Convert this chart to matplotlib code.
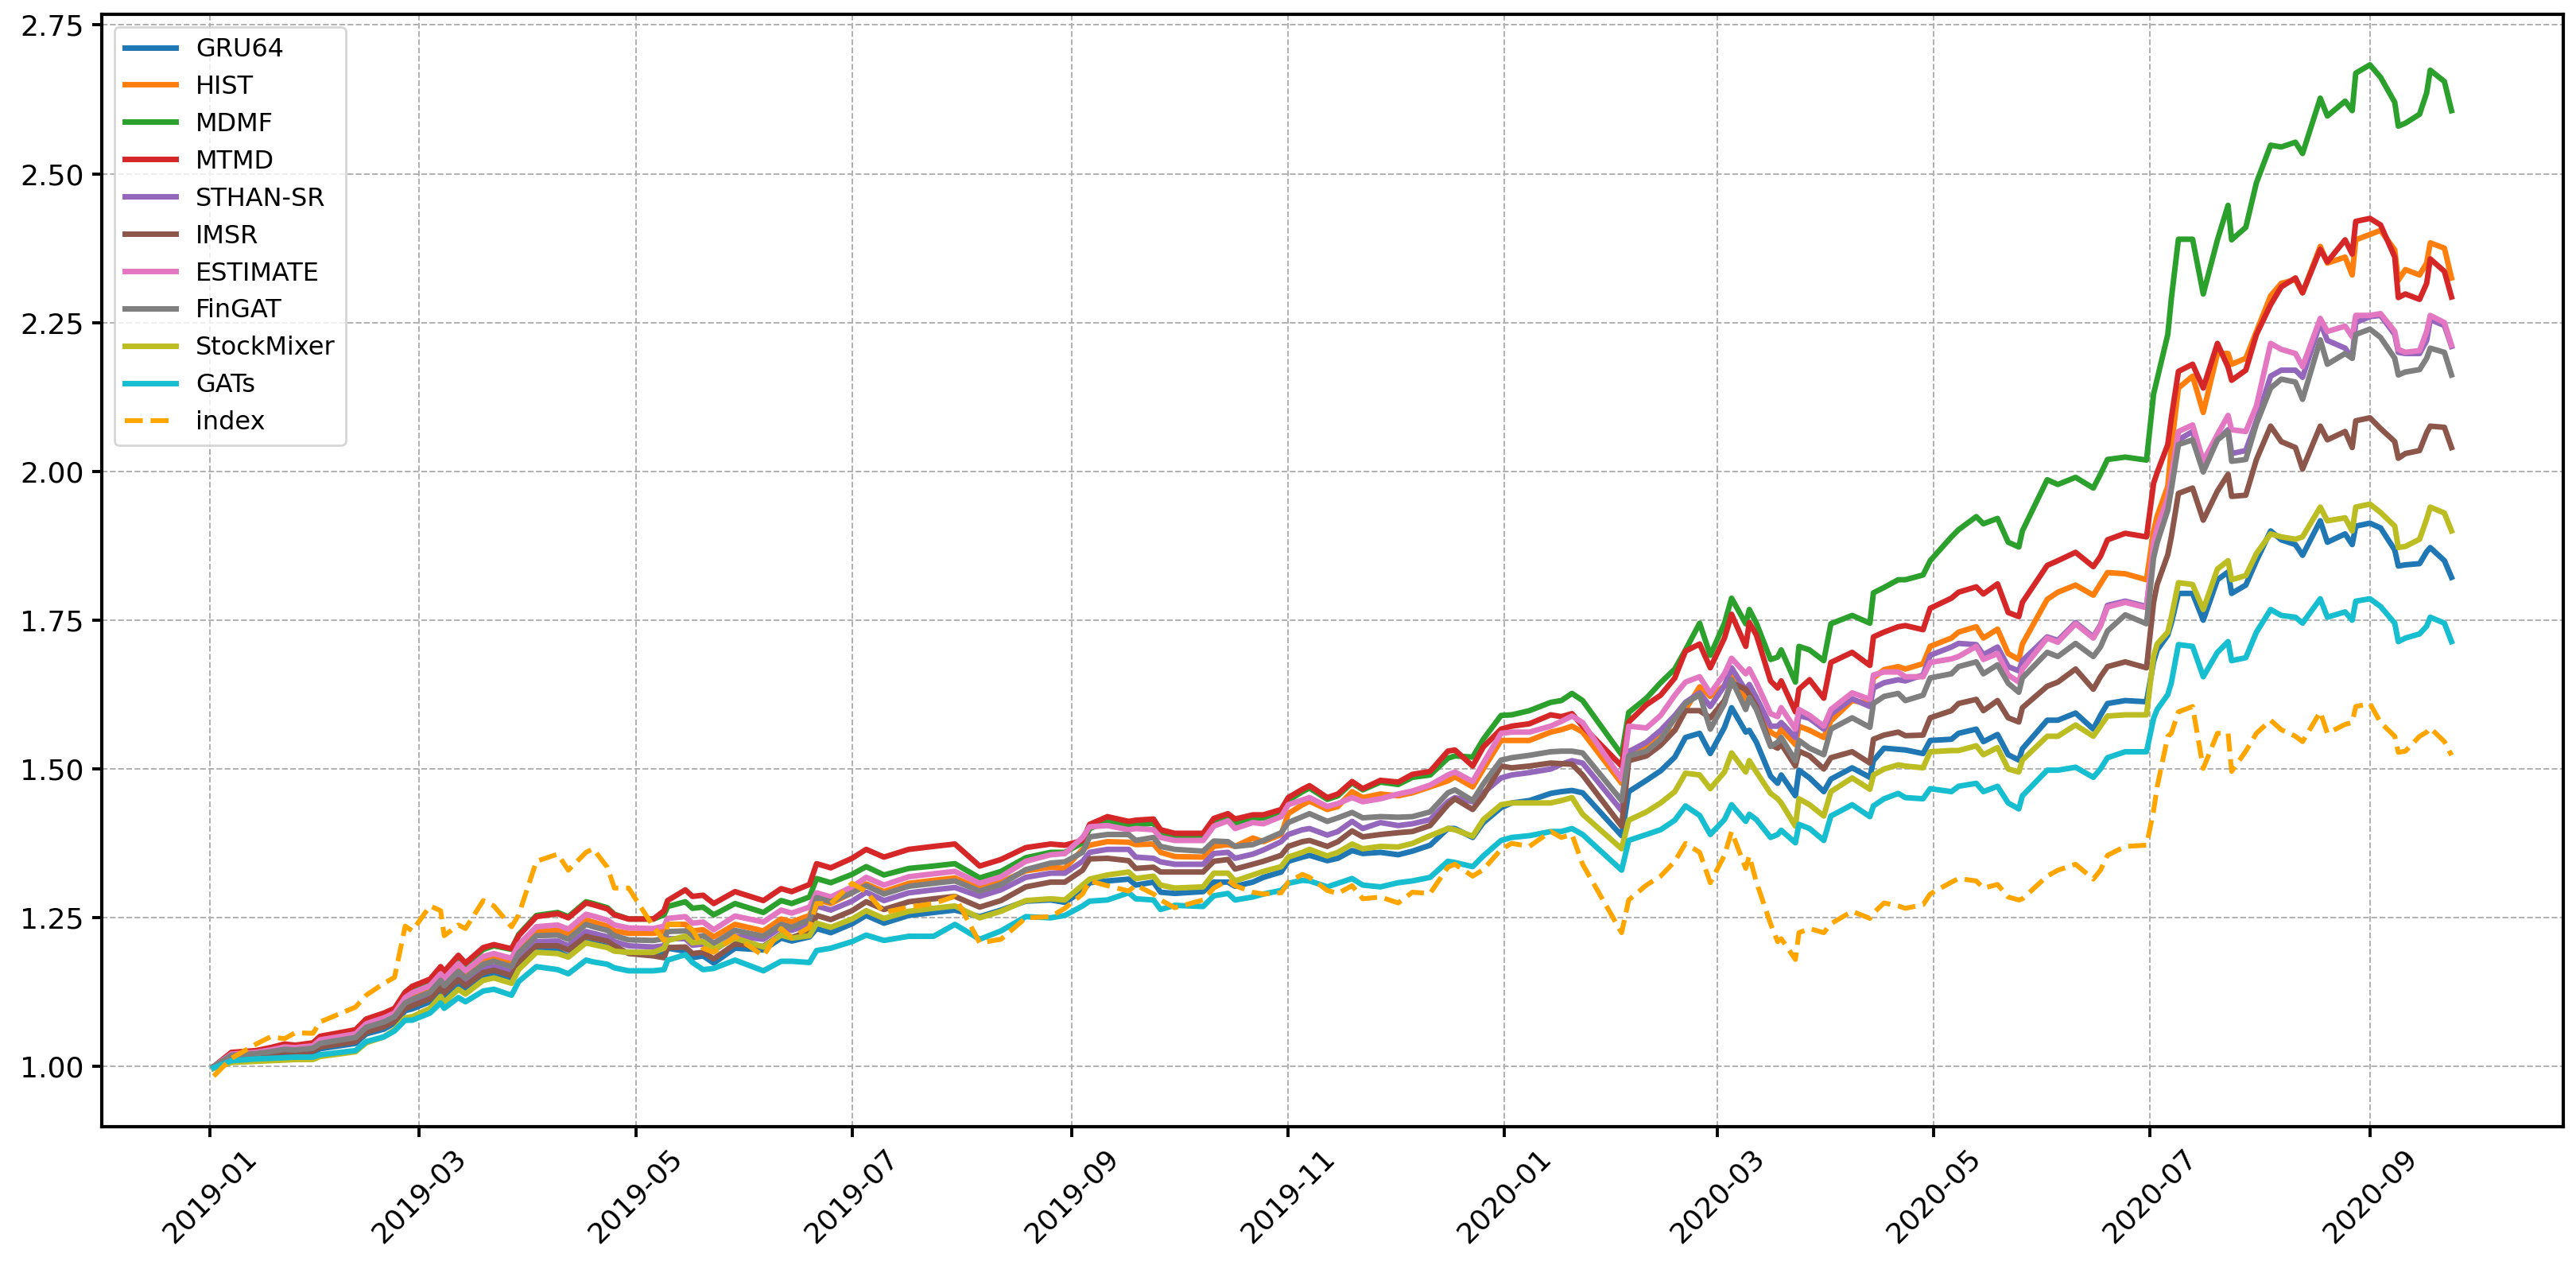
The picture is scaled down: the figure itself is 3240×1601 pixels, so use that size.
import matplotlib
matplotlib.use("Agg")
import matplotlib.pyplot as plt
import matplotlib.dates as mdates
import pandas as pd

# trading days sampled off the chart
dates = pd.to_datetime([
    # 2019-01 .. 2019-05-06
    "2019-01-02", "2019-01-07", "2019-01-14", "2019-01-18", "2019-01-22", "2019-01-25",
    "2019-01-30", "2019-02-01", "2019-02-11", "2019-02-14", "2019-02-19", "2019-02-22",
    "2019-02-25", "2019-02-27", "2019-03-04", "2019-03-07", "2019-03-08", "2019-03-12",
    "2019-03-14", "2019-03-19", "2019-03-22", "2019-03-27", "2019-03-29", "2019-04-03",
    "2019-04-09", "2019-04-12", "2019-04-17", "2019-04-19", "2019-04-23", "2019-04-25",
    "2019-04-29", "2019-05-06",
    # 2019-05 .. 2019-08
    "2019-05-09", "2019-05-10", "2019-05-15", "2019-05-17", "2019-05-20", "2019-05-23",
    "2019-05-29", "2019-06-06", "2019-06-11", "2019-06-14", "2019-06-19", "2019-06-21",
    "2019-06-25", "2019-07-01", "2019-07-05", "2019-07-10", "2019-07-17", "2019-07-24",
    "2019-07-30", "2019-08-06", "2019-08-12", "2019-08-19", "2019-08-26", "2019-08-30",
    # 2019-09 .. 2019-12
    "2019-09-04", "2019-09-06", "2019-09-11", "2019-09-17", "2019-09-19", "2019-09-24",
    "2019-09-26", "2019-09-30", "2019-10-08", "2019-10-11", "2019-10-15", "2019-10-17",
    "2019-10-22", "2019-10-25", "2019-10-30", "2019-11-01", "2019-11-05", "2019-11-07",
    "2019-11-12", "2019-11-15", "2019-11-19", "2019-11-22", "2019-11-27", "2019-12-02",
    "2019-12-06", "2019-12-11", "2019-12-16", "2019-12-18", "2019-12-23", "2019-12-26",
    "2019-12-31",
    # 2020-01 .. 2020-04
    "2020-01-03", "2020-01-08", "2020-01-14", "2020-01-17", "2020-01-20", "2020-01-23",
    "2020-02-03", "2020-02-05", "2020-02-10", "2020-02-14", "2020-02-18", "2020-02-21",
    "2020-02-25", "2020-02-28", "2020-03-03", "2020-03-05", "2020-03-09", "2020-03-10",
    "2020-03-12", "2020-03-16", "2020-03-18", "2020-03-19", "2020-03-23", "2020-03-24",
    "2020-03-27", "2020-03-31", "2020-04-02", "2020-04-08", "2020-04-13", "2020-04-14",
    "2020-04-17", "2020-04-21", "2020-04-23", "2020-04-28", "2020-04-30",
    # 2020-05 .. 2020-06
    "2020-05-06", "2020-05-08", "2020-05-13", "2020-05-15", "2020-05-19", "2020-05-22",
    "2020-05-25", "2020-05-26", "2020-06-02", "2020-06-05", "2020-06-10", "2020-06-15",
    "2020-06-17", "2020-06-19", "2020-06-24", "2020-06-30",
    # 2020-07 .. 2020-09
    "2020-07-02", "2020-07-03", "2020-07-06", "2020-07-07", "2020-07-09", "2020-07-13",
    "2020-07-16", "2020-07-20", "2020-07-23", "2020-07-24", "2020-07-28", "2020-07-31",
    "2020-08-04", "2020-08-07", "2020-08-11", "2020-08-13", "2020-08-18", "2020-08-20",
    "2020-08-25", "2020-08-27", "2020-08-28", "2020-09-01", "2020-09-04", "2020-09-08",
    "2020-09-09", "2020-09-11", "2020-09-15", "2020-09-17", "2020-09-18", "2020-09-22",
    "2020-09-24",
])

gru64 = [
    0.998, 1.015, 1.018, 1.020, 1.023, 1.023, 1.024, 1.030, 1.039, 1.055, 1.063, 1.073, 1.094, 1.097, 1.109, 1.127, 1.118, 1.139, 1.130, 1.151, 1.155, 1.146, 1.168, 1.196, 1.194, 1.185, 1.210, 1.207, 1.202, 1.195, 1.192, 1.190,
    1.189, 1.199, 1.194, 1.183, 1.186, 1.174, 1.199, 1.196, 1.216, 1.211, 1.218, 1.232, 1.225, 1.240, 1.254, 1.241, 1.254, 1.259, 1.263, 1.252, 1.263, 1.278, 1.280, 1.276,
    1.295, 1.309, 1.312, 1.315, 1.305, 1.310, 1.293, 1.291, 1.294, 1.310, 1.310, 1.303, 1.310, 1.318, 1.327, 1.345, 1.352, 1.355, 1.346, 1.350, 1.363, 1.358, 1.360, 1.356, 1.362, 1.372, 1.400, 1.400, 1.385, 1.410, 1.435,
    1.443, 1.447, 1.459, 1.462, 1.464, 1.460, 1.388, 1.462, 1.481, 1.497, 1.520, 1.553, 1.560, 1.526, 1.570, 1.603, 1.562, 1.565, 1.545, 1.488, 1.476, 1.490, 1.455, 1.498, 1.485, 1.462, 1.483, 1.502, 1.486, 1.514, 1.535, 1.533, 1.532, 1.526, 1.548,
    1.550, 1.560, 1.567, 1.546, 1.558, 1.524, 1.515, 1.534, 1.582, 1.582, 1.594, 1.567, 1.590, 1.610, 1.615, 1.613,
    1.680, 1.700, 1.725, 1.745, 1.795, 1.795, 1.750, 1.818, 1.831, 1.795, 1.809, 1.850, 1.900, 1.885, 1.877, 1.859, 1.917, 1.881, 1.895, 1.877, 1.908, 1.913, 1.905, 1.868, 1.841, 1.843, 1.845, 1.865, 1.872, 1.850, 1.822,
]
hist = [
    1.000, 1.020, 1.023, 1.027, 1.031, 1.030, 1.033, 1.042, 1.052, 1.069, 1.078, 1.087, 1.112, 1.118, 1.130, 1.150, 1.141, 1.166, 1.155, 1.178, 1.183, 1.175, 1.197, 1.227, 1.229, 1.222, 1.246, 1.243, 1.236, 1.228, 1.224, 1.224,
    1.227, 1.239, 1.239, 1.228, 1.230, 1.218, 1.239, 1.228, 1.248, 1.243, 1.254, 1.281, 1.274, 1.292, 1.307, 1.294, 1.308, 1.313, 1.317, 1.299, 1.310, 1.329, 1.335, 1.333,
    1.365, 1.372, 1.378, 1.377, 1.373, 1.374, 1.360, 1.353, 1.352, 1.370, 1.373, 1.370, 1.384, 1.378, 1.390, 1.425, 1.440, 1.446, 1.432, 1.437, 1.462, 1.452, 1.458, 1.455, 1.460, 1.470, 1.480, 1.487, 1.470, 1.500, 1.548,
    1.548, 1.548, 1.562, 1.566, 1.572, 1.562, 1.476, 1.530, 1.538, 1.555, 1.565, 1.600, 1.638, 1.622, 1.640, 1.665, 1.615, 1.625, 1.610, 1.562, 1.555, 1.567, 1.541, 1.572, 1.565, 1.553, 1.581, 1.615, 1.610, 1.653, 1.667, 1.672, 1.668, 1.677, 1.706,
    1.720, 1.730, 1.739, 1.720, 1.735, 1.694, 1.684, 1.710, 1.785, 1.797, 1.809, 1.792, 1.811, 1.830, 1.828, 1.818,
    1.900, 1.925, 1.975, 2.040, 2.140, 2.160, 2.099, 2.198, 2.198, 2.180, 2.190, 2.235, 2.295, 2.316, 2.322, 2.300, 2.378, 2.350, 2.360, 2.330, 2.389, 2.398, 2.405, 2.372, 2.321, 2.339, 2.330, 2.350, 2.384, 2.375, 2.325,
]
mdmf = [
    1.000, 1.023, 1.026, 1.031, 1.036, 1.035, 1.039, 1.048, 1.056, 1.077, 1.088, 1.096, 1.125, 1.133, 1.145, 1.165, 1.157, 1.184, 1.171, 1.197, 1.203, 1.197, 1.222, 1.254, 1.259, 1.252, 1.277, 1.274, 1.267, 1.256, 1.248, 1.248,
    1.255, 1.269, 1.277, 1.266, 1.268, 1.255, 1.274, 1.259, 1.279, 1.274, 1.285, 1.316, 1.309, 1.323, 1.336, 1.322, 1.333, 1.337, 1.341, 1.317, 1.328, 1.351, 1.360, 1.360,
    1.376, 1.400, 1.412, 1.405, 1.406, 1.409, 1.392, 1.387, 1.387, 1.410, 1.418, 1.409, 1.417, 1.418, 1.427, 1.447, 1.462, 1.468, 1.449, 1.455, 1.477, 1.465, 1.478, 1.474, 1.486, 1.490, 1.518, 1.522, 1.520, 1.550, 1.590,
    1.591, 1.598, 1.612, 1.615, 1.627, 1.615, 1.524, 1.595, 1.619, 1.645, 1.668, 1.700, 1.745, 1.691, 1.745, 1.787, 1.744, 1.768, 1.745, 1.684, 1.688, 1.700, 1.646, 1.706, 1.700, 1.682, 1.744, 1.758, 1.745, 1.796, 1.805, 1.818, 1.818, 1.826, 1.850,
    1.890, 1.902, 1.924, 1.912, 1.921, 1.881, 1.873, 1.900, 1.986, 1.978, 1.990, 1.972, 1.995, 2.020, 2.024, 2.019,
    2.130, 2.155, 2.230, 2.290, 2.390, 2.390, 2.298, 2.389, 2.447, 2.389, 2.410, 2.485, 2.548, 2.545, 2.553, 2.534, 2.627, 2.597, 2.622, 2.606, 2.669, 2.683, 2.662, 2.620, 2.580, 2.585, 2.600, 2.636, 2.674, 2.655, 2.606,
]
mtmd = [
    1.000, 1.024, 1.027, 1.032, 1.038, 1.036, 1.040, 1.051, 1.062, 1.080, 1.090, 1.098, 1.125, 1.135, 1.147, 1.168, 1.160, 1.187, 1.174, 1.200, 1.205, 1.198, 1.220, 1.252, 1.257, 1.250, 1.275, 1.272, 1.265, 1.255, 1.248, 1.248,
    1.262, 1.279, 1.297, 1.286, 1.288, 1.274, 1.294, 1.279, 1.299, 1.294, 1.306, 1.341, 1.334, 1.350, 1.365, 1.352, 1.365, 1.370, 1.374, 1.337, 1.348, 1.368, 1.374, 1.372,
    1.380, 1.407, 1.420, 1.412, 1.414, 1.416, 1.398, 1.392, 1.392, 1.417, 1.425, 1.416, 1.423, 1.423, 1.432, 1.452, 1.466, 1.472, 1.452, 1.458, 1.479, 1.467, 1.481, 1.478, 1.491, 1.496, 1.530, 1.532, 1.505, 1.537, 1.567,
    1.572, 1.576, 1.591, 1.588, 1.593, 1.572, 1.505, 1.579, 1.608, 1.624, 1.653, 1.698, 1.710, 1.670, 1.720, 1.760, 1.706, 1.746, 1.725, 1.648, 1.636, 1.648, 1.596, 1.634, 1.650, 1.619, 1.679, 1.696, 1.674, 1.722, 1.730, 1.739, 1.741, 1.734, 1.770,
    1.787, 1.797, 1.806, 1.794, 1.811, 1.763, 1.756, 1.780, 1.842, 1.850, 1.864, 1.840, 1.857, 1.885, 1.896, 1.890,
    1.980, 1.998, 2.045, 2.090, 2.168, 2.180, 2.140, 2.215, 2.175, 2.153, 2.170, 2.230, 2.280, 2.310, 2.325, 2.300, 2.373, 2.352, 2.389, 2.365, 2.420, 2.425, 2.414, 2.360, 2.292, 2.298, 2.289, 2.316, 2.357, 2.336, 2.293,
]
sthan_sr = [
    1.000, 1.017, 1.020, 1.023, 1.027, 1.026, 1.028, 1.036, 1.045, 1.061, 1.070, 1.079, 1.101, 1.106, 1.118, 1.137, 1.129, 1.152, 1.142, 1.164, 1.168, 1.159, 1.182, 1.210, 1.211, 1.203, 1.227, 1.224, 1.218, 1.210, 1.203, 1.201,
    1.203, 1.215, 1.215, 1.204, 1.206, 1.195, 1.219, 1.214, 1.234, 1.229, 1.239, 1.270, 1.263, 1.278, 1.293, 1.279, 1.292, 1.297, 1.301, 1.286, 1.297, 1.318, 1.325, 1.325,
    1.345, 1.360, 1.365, 1.365, 1.352, 1.350, 1.344, 1.340, 1.340, 1.358, 1.360, 1.350, 1.357, 1.364, 1.378, 1.390, 1.398, 1.400, 1.389, 1.395, 1.412, 1.400, 1.410, 1.405, 1.408, 1.415, 1.445, 1.452, 1.445, 1.460, 1.485,
    1.490, 1.494, 1.500, 1.508, 1.514, 1.510, 1.430, 1.529, 1.545, 1.565, 1.590, 1.612, 1.628, 1.605, 1.640, 1.670, 1.632, 1.642, 1.620, 1.572, 1.572, 1.578, 1.553, 1.590, 1.585, 1.567, 1.592, 1.618, 1.605, 1.636, 1.645, 1.650, 1.648, 1.658, 1.691,
    1.705, 1.711, 1.709, 1.692, 1.705, 1.672, 1.665, 1.682, 1.722, 1.716, 1.746, 1.722, 1.742, 1.775, 1.782, 1.773,
    1.870, 1.895, 1.945, 1.980, 2.053, 2.067, 2.005, 2.053, 2.070, 2.030, 2.035, 2.085, 2.160, 2.170, 2.170, 2.158, 2.250, 2.220, 2.207, 2.190, 2.250, 2.260, 2.262, 2.230, 2.200, 2.198, 2.198, 2.220, 2.255, 2.245, 2.210,
]
imsr = [
    1.000, 1.016, 1.019, 1.022, 1.025, 1.024, 1.026, 1.033, 1.042, 1.058, 1.067, 1.076, 1.098, 1.102, 1.114, 1.133, 1.124, 1.146, 1.136, 1.158, 1.162, 1.153, 1.175, 1.203, 1.203, 1.196, 1.219, 1.216, 1.211, 1.203, 1.190, 1.186,
    1.183, 1.200, 1.201, 1.190, 1.192, 1.181, 1.206, 1.202, 1.222, 1.217, 1.227, 1.254, 1.247, 1.262, 1.277, 1.264, 1.277, 1.282, 1.286, 1.268, 1.279, 1.302, 1.310, 1.310,
    1.330, 1.349, 1.350, 1.346, 1.333, 1.335, 1.327, 1.327, 1.327, 1.345, 1.348, 1.332, 1.340, 1.345, 1.355, 1.370, 1.378, 1.380, 1.370, 1.378, 1.396, 1.386, 1.390, 1.393, 1.395, 1.405, 1.440, 1.450, 1.432, 1.455, 1.505,
    1.502, 1.505, 1.510, 1.509, 1.508, 1.490, 1.404, 1.514, 1.522, 1.540, 1.565, 1.598, 1.598, 1.586, 1.615, 1.645, 1.634, 1.625, 1.605, 1.541, 1.535, 1.542, 1.505, 1.530, 1.522, 1.500, 1.519, 1.529, 1.510, 1.550, 1.557, 1.562, 1.556, 1.557, 1.586,
    1.598, 1.610, 1.617, 1.598, 1.615, 1.586, 1.579, 1.603, 1.639, 1.646, 1.668, 1.634, 1.655, 1.672, 1.680, 1.670,
    1.780, 1.810, 1.860, 1.890, 1.963, 1.972, 1.918, 1.967, 1.995, 1.958, 1.960, 2.020, 2.076, 2.050, 2.040, 2.004, 2.076, 2.053, 2.067, 2.040, 2.085, 2.090, 2.072, 2.050, 2.022, 2.030, 2.035, 2.065, 2.076, 2.074, 2.040,
]
estimate = [
    1.000, 1.021, 1.024, 1.028, 1.033, 1.032, 1.035, 1.045, 1.055, 1.072, 1.082, 1.090, 1.116, 1.124, 1.136, 1.156, 1.148, 1.173, 1.161, 1.185, 1.190, 1.182, 1.205, 1.235, 1.238, 1.231, 1.256, 1.253, 1.246, 1.238, 1.233, 1.232,
    1.236, 1.249, 1.252, 1.241, 1.243, 1.230, 1.253, 1.243, 1.263, 1.258, 1.268, 1.292, 1.285, 1.302, 1.318, 1.305, 1.319, 1.324, 1.328, 1.308, 1.319, 1.345, 1.356, 1.358,
    1.385, 1.403, 1.405, 1.398, 1.400, 1.398, 1.385, 1.380, 1.380, 1.404, 1.413, 1.400, 1.410, 1.408, 1.420, 1.440, 1.448, 1.452, 1.437, 1.442, 1.452, 1.445, 1.450, 1.458, 1.463, 1.473, 1.490, 1.495, 1.479, 1.510, 1.560,
    1.562, 1.562, 1.572, 1.580, 1.589, 1.578, 1.483, 1.572, 1.569, 1.590, 1.624, 1.646, 1.655, 1.627, 1.660, 1.686, 1.660, 1.668, 1.645, 1.593, 1.588, 1.603, 1.567, 1.600, 1.590, 1.572, 1.600, 1.628, 1.617, 1.658, 1.663, 1.663, 1.655, 1.655, 1.679,
    1.685, 1.689, 1.706, 1.684, 1.694, 1.658, 1.646, 1.668, 1.720, 1.713, 1.744, 1.720, 1.740, 1.772, 1.780, 1.771,
    1.880, 1.905, 1.955, 1.990, 2.067, 2.078, 2.017, 2.062, 2.094, 2.070, 2.067, 2.110, 2.215, 2.205, 2.198, 2.176, 2.257, 2.235, 2.244, 2.226, 2.262, 2.262, 2.265, 2.235, 2.205, 2.200, 2.203, 2.235, 2.262, 2.250, 2.212,
]
fingat = [
    1.000, 1.019, 1.022, 1.025, 1.029, 1.028, 1.031, 1.039, 1.049, 1.066, 1.075, 1.084, 1.107, 1.113, 1.125, 1.145, 1.136, 1.160, 1.149, 1.172, 1.177, 1.168, 1.191, 1.220, 1.221, 1.214, 1.239, 1.235, 1.229, 1.220, 1.213, 1.212,
    1.215, 1.227, 1.228, 1.217, 1.220, 1.207, 1.229, 1.219, 1.239, 1.234, 1.247, 1.284, 1.277, 1.292, 1.304, 1.290, 1.303, 1.308, 1.312, 1.295, 1.306, 1.331, 1.342, 1.344,
    1.360, 1.386, 1.390, 1.390, 1.380, 1.385, 1.370, 1.365, 1.362, 1.379, 1.378, 1.370, 1.373, 1.380, 1.393, 1.410, 1.420, 1.425, 1.412, 1.418, 1.427, 1.418, 1.420, 1.419, 1.420, 1.428, 1.460, 1.465, 1.447, 1.475, 1.515,
    1.519, 1.523, 1.529, 1.530, 1.530, 1.527, 1.447, 1.522, 1.530, 1.550, 1.585, 1.610, 1.625, 1.567, 1.610, 1.650, 1.600, 1.620, 1.600, 1.538, 1.545, 1.553, 1.514, 1.548, 1.535, 1.524, 1.567, 1.586, 1.570, 1.610, 1.622, 1.627, 1.615, 1.624, 1.653,
    1.660, 1.672, 1.680, 1.660, 1.675, 1.644, 1.629, 1.653, 1.696, 1.689, 1.711, 1.689, 1.705, 1.732, 1.759, 1.744,
    1.855, 1.880, 1.935, 1.970, 2.045, 2.053, 1.999, 2.053, 2.067, 2.017, 2.020, 2.080, 2.140, 2.155, 2.150, 2.121, 2.221, 2.180, 2.198, 2.190, 2.230, 2.239, 2.225, 2.190, 2.162, 2.167, 2.171, 2.190, 2.207, 2.200, 2.162,
]
stockmixer = [
    0.997, 1.007, 1.009, 1.010, 1.011, 1.012, 1.012, 1.017, 1.025, 1.040, 1.050, 1.062, 1.082, 1.084, 1.098, 1.118, 1.108, 1.130, 1.122, 1.145, 1.149, 1.140, 1.163, 1.192, 1.190, 1.184, 1.208, 1.205, 1.200, 1.194, 1.192, 1.192,
    1.199, 1.212, 1.219, 1.208, 1.210, 1.197, 1.216, 1.201, 1.221, 1.216, 1.220, 1.241, 1.234, 1.248, 1.262, 1.249, 1.261, 1.266, 1.270, 1.250, 1.261, 1.279, 1.282, 1.280,
    1.305, 1.315, 1.322, 1.327, 1.316, 1.320, 1.305, 1.300, 1.302, 1.325, 1.325, 1.312, 1.322, 1.328, 1.336, 1.352, 1.360, 1.365, 1.354, 1.360, 1.374, 1.366, 1.370, 1.369, 1.375, 1.388, 1.400, 1.398, 1.387, 1.415, 1.440,
    1.443, 1.443, 1.443, 1.447, 1.452, 1.424, 1.366, 1.414, 1.428, 1.443, 1.462, 1.493, 1.490, 1.467, 1.495, 1.527, 1.495, 1.514, 1.495, 1.459, 1.450, 1.443, 1.404, 1.450, 1.440, 1.421, 1.462, 1.485, 1.466, 1.490, 1.500, 1.507, 1.505, 1.502, 1.529,
    1.531, 1.531, 1.539, 1.524, 1.536, 1.500, 1.495, 1.515, 1.555, 1.555, 1.574, 1.555, 1.572, 1.589, 1.591, 1.591,
    1.690, 1.710, 1.730, 1.755, 1.813, 1.810, 1.768, 1.836, 1.850, 1.818, 1.825, 1.862, 1.895, 1.890, 1.886, 1.890, 1.940, 1.917, 1.922, 1.900, 1.940, 1.945, 1.931, 1.908, 1.872, 1.874, 1.886, 1.920, 1.940, 1.930, 1.900,
]
gats = [
    0.998, 1.010, 1.013, 1.014, 1.015, 1.016, 1.016, 1.020, 1.027, 1.042, 1.050, 1.060, 1.078, 1.078, 1.090, 1.107, 1.098, 1.116, 1.109, 1.127, 1.130, 1.120, 1.143, 1.168, 1.163, 1.156, 1.179, 1.176, 1.172, 1.166, 1.161, 1.161,
    1.163, 1.179, 1.188, 1.175, 1.163, 1.165, 1.179, 1.161, 1.177, 1.177, 1.175, 1.195, 1.199, 1.210, 1.221, 1.212, 1.219, 1.219, 1.239, 1.214, 1.228, 1.252, 1.250, 1.254,
    1.270, 1.278, 1.280, 1.292, 1.282, 1.280, 1.264, 1.271, 1.269, 1.287, 1.291, 1.280, 1.285, 1.290, 1.296, 1.308, 1.313, 1.312, 1.302, 1.308, 1.316, 1.305, 1.302, 1.309, 1.312, 1.318, 1.345, 1.343, 1.336, 1.354, 1.380,
    1.385, 1.388, 1.395, 1.395, 1.400, 1.390, 1.330, 1.380, 1.390, 1.398, 1.414, 1.438, 1.422, 1.390, 1.415, 1.440, 1.412, 1.424, 1.415, 1.385, 1.390, 1.397, 1.376, 1.407, 1.400, 1.380, 1.421, 1.440, 1.420, 1.438, 1.450, 1.459, 1.452, 1.450, 1.467,
    1.462, 1.471, 1.476, 1.462, 1.471, 1.443, 1.433, 1.455, 1.498, 1.498, 1.503, 1.486, 1.500, 1.519, 1.529, 1.529,
    1.585, 1.600, 1.625, 1.645, 1.709, 1.706, 1.655, 1.696, 1.714, 1.682, 1.687, 1.730, 1.768, 1.758, 1.755, 1.745, 1.786, 1.755, 1.764, 1.750, 1.782, 1.786, 1.773, 1.745, 1.714, 1.720, 1.727, 1.740, 1.755, 1.745, 1.714,
]
index = [
    0.984, 1.014, 1.038, 1.050, 1.047, 1.057, 1.056, 1.075, 1.100, 1.120, 1.140, 1.150, 1.236, 1.228, 1.270, 1.262, 1.220, 1.238, 1.232, 1.279, 1.270, 1.235, 1.255, 1.345, 1.357, 1.330, 1.360, 1.366, 1.335, 1.300, 1.300, 1.235,
    1.212, 1.239, 1.239, 1.230, 1.199, 1.192, 1.219, 1.186, 1.232, 1.217, 1.234, 1.274, 1.274, 1.308, 1.294, 1.259, 1.268, 1.274, 1.286, 1.208, 1.214, 1.250, 1.252, 1.266,
    1.290, 1.312, 1.304, 1.295, 1.305, 1.290, 1.280, 1.267, 1.280, 1.300, 1.313, 1.304, 1.293, 1.290, 1.292, 1.310, 1.323, 1.318, 1.296, 1.291, 1.304, 1.282, 1.285, 1.275, 1.293, 1.291, 1.335, 1.340, 1.320, 1.331, 1.365,
    1.375, 1.370, 1.395, 1.385, 1.390, 1.340, 1.225, 1.280, 1.305, 1.320, 1.345, 1.375, 1.360, 1.309, 1.355, 1.395, 1.333, 1.354, 1.310, 1.240, 1.210, 1.215, 1.180, 1.225, 1.232, 1.225, 1.240, 1.261, 1.249, 1.258, 1.275, 1.270, 1.266, 1.272, 1.290,
    1.310, 1.316, 1.312, 1.300, 1.306, 1.285, 1.280, 1.282, 1.320, 1.330, 1.340, 1.315, 1.330, 1.355, 1.370, 1.372,
    1.430, 1.470, 1.555, 1.560, 1.596, 1.605, 1.501, 1.560, 1.560, 1.496, 1.530, 1.560, 1.582, 1.566, 1.555, 1.546, 1.596, 1.560, 1.575, 1.578, 1.605, 1.610, 1.578, 1.555, 1.528, 1.530, 1.555, 1.562, 1.569, 1.546, 1.523,
]

models = [("GRU64", gru64), ("HIST", hist), ("MDMF", mdmf), ("MTMD", mtmd),
          ("STHAN-SR", sthan_sr), ("IMSR", imsr), ("ESTIMATE", estimate),
          ("FinGAT", fingat), ("StockMixer", stockmixer), ("GATs", gats)]
colours = ["tab:blue", "tab:orange", "tab:green", "tab:red", "tab:purple",
           "tab:brown", "tab:pink", "tab:gray", "tab:olive", "tab:cyan"]

for name, values in models + [("index", index)]:
    assert len(values) == len(dates), (name, len(values), len(dates))

figure = plt.figure(figsize=(16.205, 8.005), dpi=200)
axes = figure.add_axes([0.0395, 0.1149, 0.9553, 0.8739])

for (name, values), colour in zip(models, colours):
    axes.plot(dates, values, color=colour, lw=2.5, label=name)
axes.plot(dates, index, color="orange", lw=2.2, linestyle="--", label="index")

axes.xaxis.set_major_locator(mdates.MonthLocator(bymonth=[1, 3, 5, 7, 9, 11]))
axes.xaxis.set_major_formatter(mdates.DateFormatter("%Y-%m"))
axes.tick_params(labelsize=13, width=1.4, length=4.5)
plt.setp(axes.get_xticklabels(), rotation=45)
for spine in axes.spines.values():
    spine.set_linewidth(1.5)
axes.grid(True, linestyle="--", linewidth=0.7, color="#b0b0b0")
axes.legend(loc="upper left", fontsize=11.5)

plt.savefig("out.png", dpi=200)
plt.close()
